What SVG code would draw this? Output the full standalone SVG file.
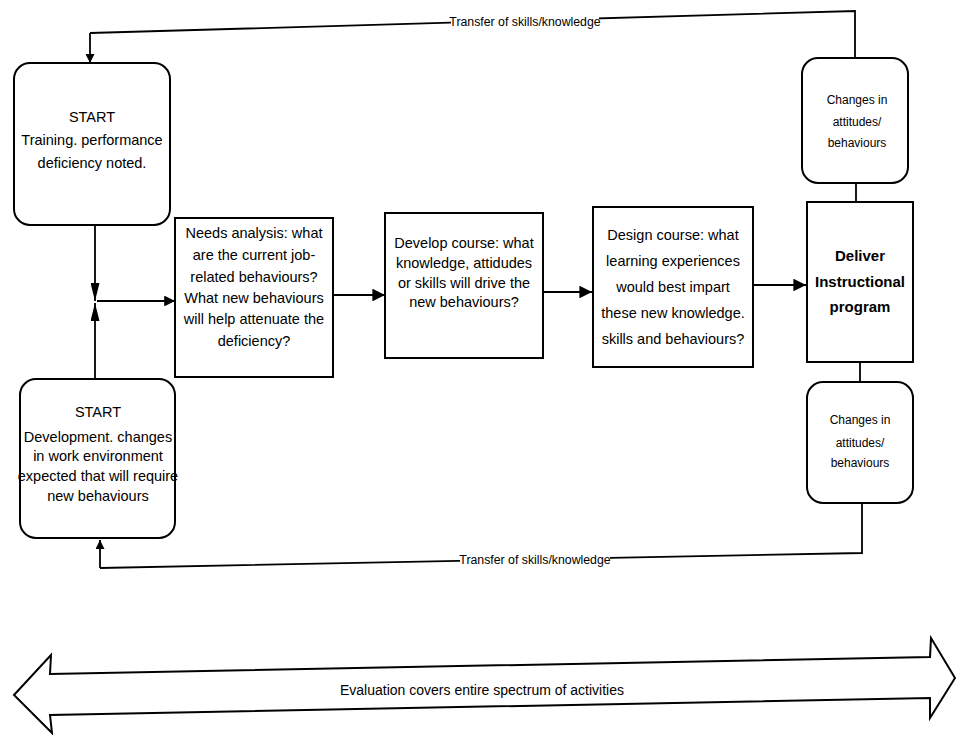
<svg xmlns="http://www.w3.org/2000/svg" width="957" height="735" viewBox="0 0 957 735">
<defs>
<style>
text{font-family:"Liberation Sans",Arial,sans-serif;fill:#000;text-anchor:middle}
.t{font-size:14.5px}
.sm{font-size:12px}
.lb{font-size:12.3px}
.ev{font-size:14px}
.b{font-size:15px;font-weight:bold}
.box{fill:#fff;stroke:#000;stroke-width:2}
.ln{fill:none;stroke:#000;stroke-width:1.8}
</style>
<marker id="ah" viewBox="0 0 10 10" refX="10" refY="5" markerWidth="7" markerHeight="7" orient="auto" markerUnits="strokeWidth"><path d="M0,0L10,5L0,10z" fill="#000"/></marker>
<marker id="at" viewBox="0 0 10 10" refX="10" refY="5" markerWidth="6" markerHeight="6" orient="auto" markerUnits="strokeWidth"><path d="M0,0L10,5L0,10z" fill="#000"/></marker>
<marker id="as" viewBox="0 0 10 10" refX="10" refY="5" markerWidth="5" markerHeight="5" orient="auto" markerUnits="strokeWidth"><path d="M0,0L10,5L0,10z" fill="#000"/></marker>
<marker id="aj" viewBox="0 0 20 10" refX="20" refY="5" markerWidth="10" markerHeight="5" orient="auto" markerUnits="strokeWidth"><path d="M0,0L20,5L0,10z" fill="#000"/></marker>
</defs>
<g id="connectors">
<path class="ln" d="M90,33 L855,11 L855,58"/>
<path class="ln" d="M90,33 L90,63" marker-end="url(#as)"/>
<path class="ln" d="M862,503 L862,553 L100,568"/>
<path class="ln" d="M100,568 L100,540" marker-end="url(#as)"/>
<path class="ln" d="M95,225 L95,301" marker-end="url(#aj)"/>
<path class="ln" d="M95,380 L95,303" marker-end="url(#aj)"/>
<path class="ln" d="M97,301 L175,301" stroke-width="3.5" marker-end="url(#at)"/>
<path class="ln" d="M333,295 L385,295" marker-end="url(#ah)" stroke-width="2.5"/>
<path class="ln" d="M543,292 L592,292" marker-end="url(#ah)" stroke-width="2.5"/>
<path class="ln" d="M753,285 L806,285" marker-end="url(#ah)" stroke-width="2.5"/>
<path class="ln" d="M856,183 L856,202"/>
<path class="ln" d="M860,362 L860,382"/>
<rect x="451" y="12" width="148" height="18" fill="#fff"/>
<text class="lb" x="525" y="26">Transfer of skills/knowledge</text>
<rect x="460" y="551" width="150" height="16" fill="#fff"/>
<text class="lb" x="535" y="564">Transfer of skills/knowledge</text>
</g>
<g id="start1">
<rect class="box" x="14" y="63" width="156" height="162" rx="16"/>
<text class="t" x="92" y="122">START</text>
<text class="t" x="92" y="145">Training. performance</text>
<text class="t" x="92" y="168">deficiency noted.</text>
</g>
<g id="start2">
<rect class="box" x="20" y="379" width="155" height="159" rx="16"/>
<text class="t" x="98" y="417">START</text>
<text class="t" x="98" y="442">Development. changes</text>
<text class="t" x="98" y="461">in work environment</text>
<text class="t" x="98" y="481">expected that will require</text>
<text class="t" x="98" y="501">new behaviours</text>
</g>
<g id="needs">
<rect class="box" x="175" y="218" width="158" height="159"/>
<text class="t" x="254" y="238">Needs analysis: what</text>
<text class="t" x="254" y="260">are the current job-</text>
<text class="t" x="254" y="282">related behaviours?</text>
<text class="t" x="254" y="303">What new behaviours</text>
<text class="t" x="254" y="324">will help attenuate the</text>
<text class="t" x="254" y="346">deficiency?</text>
</g>
<g id="develop">
<rect class="box" x="385" y="213" width="158" height="145"/>
<text class="t" x="464" y="248">Develop course: what</text>
<text class="t" x="464" y="268">knowledge, attidudes</text>
<text class="t" x="464" y="288">or skills will drive the</text>
<text class="t" x="464" y="307">new behaviours?</text>
</g>
<g id="design">
<rect class="box" x="593" y="207" width="160" height="160"/>
<text class="t" x="673" y="240">Design course: what</text>
<text class="t" x="673" y="266">learning experiences</text>
<text class="t" x="673" y="292">would best impart</text>
<text class="t" x="673" y="318">these new knowledge.</text>
<text class="t" x="673" y="344">skills and behaviours?</text>
</g>
<g id="deliver">
<rect class="box" x="807" y="202" width="106" height="160"/>
<text class="b" x="860" y="261">Deliver</text>
<text class="b" x="860" y="287">Instructional</text>
<text class="b" x="860" y="312">program</text>
</g>
<g id="changes1">
<rect class="box" x="802" y="58" width="106" height="125" rx="16"/>
<text class="sm" x="857" y="104">Changes in</text>
<text class="sm" x="857" y="126">attitudes/</text>
<text class="sm" x="857" y="147">behaviours</text>
</g>
<g id="changes2">
<rect class="box" x="807" y="382" width="106" height="121" rx="16"/>
<text class="sm" x="860" y="424">Changes in</text>
<text class="sm" x="860" y="447">attitudes/</text>
<text class="sm" x="860" y="467">behaviours</text>
</g>
<g id="evaluation">
<polygon points="14,695 51,655 50,674 930,657 931,638 955,678 930,718 930,698 50,715 52,733" fill="#fff" stroke="#000" stroke-width="2" stroke-linejoin="miter"/>
<text class="ev" x="482" y="695">Evaluation covers entire spectrum of activities</text>
</g>
</svg>
